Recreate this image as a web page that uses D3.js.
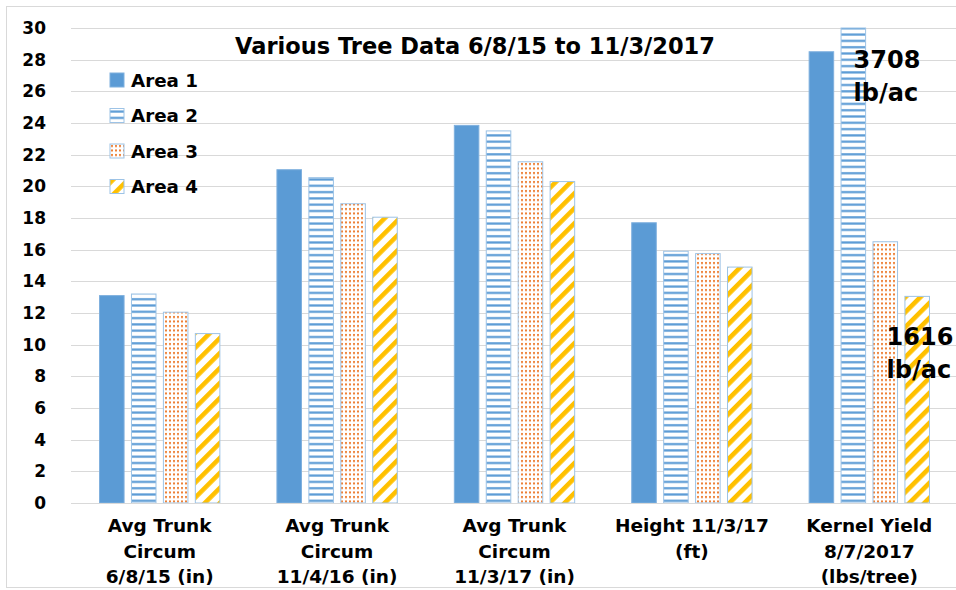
<!DOCTYPE html>
<html lang="en">
<head>
    <meta charset="UTF-8">
    <title>Various Tree Data</title>
    <script src="https://cdn.jsdelivr.net/npm/d3@7"></script>
    <style>
        body{ margin: 0; background: #fff; }
        #mainsvg{ display: block; font-family: "DejaVu Sans", Verdana, sans-serif; font-weight: bold; }
    </style>
</head>
<body>
    <svg width="956" height="590" id="mainsvg"></svg>
    <script>
        // data
        const categories = [
            ["Avg Trunk", "Circum", "6/8/15 (in)"],
            ["Avg Trunk", "Circum", "11/4/16 (in)"],
            ["Avg Trunk", "Circum", "11/3/17 (in)"],
            ["Height 11/3/17", "(ft)"],
            ["Kernel Yield", "8/7/2017", "(lbs/tree)"]
        ]
        const series = ["Area 1", "Area 2", "Area 3", "Area 4"]
        const area1 = [13.1, 21.05, 23.85, 17.7, 28.5]
        const area2 = [13.2, 20.55, 23.5, 15.9, 30]
        const area3 = [12.05, 18.9, 21.55, 15.75, 16.5]
        const area4 = [10.7, 18.05, 20.3, 14.9, 13.05]
        const yTicks = d3.range(0, 31, 2)
        const title = "Various Tree Data 6/8/15 to 11/3/2017"
        const notes = [
            {cat: 4, value: 27.5, lines: ["3708", "lb/ac"], dx: 13},
            {cat: 4, value: 10.0, lines: ["1616", "lb/ac"], dx: 46}
        ]

        const values = [area1, area2, area3, area4]

        let svg = d3.select('svg');
        const width = +svg.attr('width');
        const height = +svg.attr('height');
        const margin = {top: 28, right: -2, bottom: 87, left: 71};

        // frame
        svg.append("rect").attr("x", 6.5).attr("y", 6.5)
            .attr("width", 970).attr("height", 581)
            .attr("fill", "none").attr("stroke", "#d9d9d9")

        const defs = svg.append("defs")
        const stripes = defs.append("pattern").attr("id", "p2")
            .attr("patternUnits", "userSpaceOnUse").attr("width", 6).attr("height", 6.3)
        stripes.append("rect").attr("width", 6).attr("height", 6.3).attr("fill", "#fff")
        stripes.append("rect").attr("y", 2).attr("width", 6).attr("height", 2.2).attr("fill", "#5b9bd5")

        const dots = defs.append("pattern").attr("id", "p3")
            .attr("patternUnits", "userSpaceOnUse").attr("width", 4).attr("height", 4.5)
        dots.append("rect").attr("width", 4).attr("height", 4.5).attr("fill", "#fff")
        dots.append("rect").attr("x", 1).attr("y", 1).attr("width", 2).attr("height", 2).attr("fill", "#ed7d31")

        const diag = defs.append("pattern").attr("id", "p4")
            .attr("patternUnits", "userSpaceOnUse").attr("width", 10.6).attr("height", 10.6)
            .attr("patternTransform", "rotate(45)")
        diag.append("rect").attr("width", 10.6).attr("height", 10.6).attr("fill", "#fff")
        diag.append("rect").attr("width", 4.6).attr("height", 10.6).attr("fill", "#ffc000")

        const fills = ["#5b9bd5", "url(#p2)", "url(#p3)", "url(#p4)"]
        const strokes = ["#7fb0de", "#9dc3e6", "#9dc3e6", "#9dc3e6"]

        const x0 = d3.scaleBand().domain(d3.range(categories.length))
            .range([margin.left, width - margin.right])
            .paddingInner(0.28).paddingOuter(0.14)
        const x1 = d3.scaleBand().domain(series)
            .range([0, x0.bandwidth()])
            .paddingInner(0.2).paddingOuter(0.1)
        const y = d3.scaleLinear().domain([0, 30]).range([height - margin.bottom, margin.top])

        // gridlines
        svg.append("g").selectAll("line").data(yTicks.filter(d => d > 0)).join("line")
            .attr("x1", margin.left).attr("x2", width)
            .attr("y1", d => Math.round(y(d)) + 0.5).attr("y2", d => Math.round(y(d)) + 0.5)
            .attr("stroke", "#d9d9d9").attr("stroke-width", 1.2)

        // y axis labels
        const yAxis = svg.append("g")
            .attr("transform", `translate(${margin.left}, 0)`)
            .call(d3.axisLeft(y).tickValues(yTicks).tickSize(0).tickPadding(25))
        yAxis.select(".domain").remove()
        yAxis.selectAll("text").attr("font-size", 17).attr("font-family", "DejaVu Sans")
            .attr("font-weight", "bold").attr("fill", "#000")

        // bars
        const groups = svg.append("g").selectAll("g").data(series).join("g")
        groups.each(function(s, si) {
            d3.select(this).selectAll("rect").data(values[si]).join("rect")
                .attr("x", (d, i) => x0(i) + x1(s) + 0.5)
                .attr("y", d => y(d))
                .attr("width", x1.bandwidth() - 1)
                .attr("height", d => y(0) - y(d))
                .attr("fill", fills[si])
                .attr("stroke", strokes[si])
                .attr("stroke-width", 1)
        })

        // baseline
        svg.append("line").attr("x1", margin.left).attr("x2", width)
            .attr("y1", Math.round(y(0)) + 0.5).attr("y2", Math.round(y(0)) + 0.5)
            .attr("stroke", "#d9d9d9").attr("stroke-width", 1.2)

        // category labels
        const cat = svg.append("g").selectAll("text").data(categories).join("text")
            .attr("x", (d, i) => x0(i) + x0.bandwidth() / 2)
            .attr("y", y(0) + 29)
            .attr("text-anchor", "middle").attr("font-size", 18.5).attr("fill", "#000")
        cat.selectAll("tspan").data(d => d).join("tspan")
            .attr("x", function() { return this.parentNode.getAttribute("x") })
            .attr("dy", (d, i) => i === 0 ? 0 : 25.5)
            .text(d => d)

        // title
        svg.append("text").attr("x", 475).attr("y", 54)
            .attr("text-anchor", "middle").attr("font-size", 22.5).attr("fill", "#000")
            .text(title)

        // legend
        const legend = svg.append("g").selectAll("g").data(series).join("g")
            .attr("transform", (d, i) => `translate(110, ${73 + i * 35.5})`)
        legend.append("rect").attr("width", 14).attr("height", 14)
            .attr("fill", (d, i) => fills[i]).attr("stroke", (d, i) => strokes[i])
        legend.append("text").attr("x", 21).attr("y", 13.5)
            .attr("font-size", 18.3).attr("fill", "#000").text(d => d)

        // yield notes
        const note = svg.append("g").selectAll("text").data(notes).join("text")
            .attr("x", d => x0(d.cat) + x1(series[1]) + d.dx)
            .attr("y", d => y(d.value))
            .attr("font-size", 24).attr("fill", "#000")
        note.selectAll("tspan").data(d => d.lines).join("tspan")
            .attr("x", function() { return this.parentNode.getAttribute("x") })
            .attr("dy", (d, i) => i === 0 ? 0 : 33)
            .text(d => d)
    </script>
</body>
</html>
